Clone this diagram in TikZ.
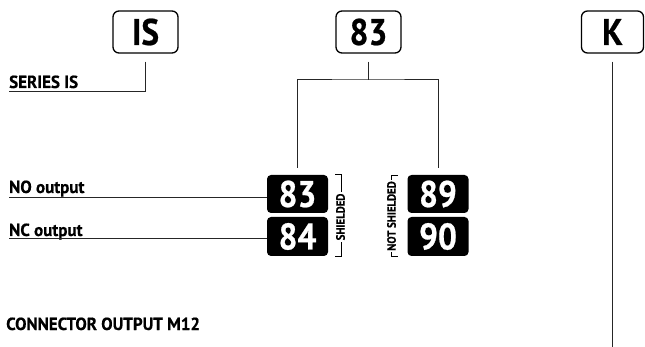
\documentclass[tikz,border=0pt]{standalone}
\usepackage{fontspec}
\setmainfont{PT Sans}
\newfontfamily\condfont{PT Sans Bold}[FakeStretch=0.9,FakeBold=0.6]
\newfontfamily\lblfont{PT Sans Bold}[FakeStretch=0.97,FakeBold=0.6]
\newfontfamily\vfont{PT Sans Bold}[FakeStretch=0.9,FakeBold=0.6]
\begin{document}
\begin{tikzpicture}[x=1pt,y=-1pt,
  wline/.style={line width=1pt,black!85},
  topbox/.style={draw,line width=1.3pt,rounded corners=6pt,minimum width=65pt,minimum height=42pt,inner sep=0pt,font=\condfont\fontsize{37}{37}\selectfont},
  blkbox/.style={fill=black,rounded corners=4pt,minimum width=61pt,minimum height=38pt,inner sep=0pt,text=white,font=\condfont\fontsize{37}{37}\selectfont},
  lbl/.style={anchor=base west,inner sep=0pt,font=\lblfont\fontsize{17.5}{17.5}\selectfont},
  vlbl/.style={rotate=90,fill=white,inner xsep=1.5pt,inner ysep=0pt,font=\vfont\fontsize{12}{12}\selectfont}]
\useasboundingbox (0,0) rectangle (645,347);
% top boxes
\node[topbox] (is) at (145.5,32) {IS};
\node[topbox] (b83) at (368.5,32) {83};
\node[topbox,minimum width=62pt] (k) at (612.5,32) {K};
% black boxes
\node[blkbox] (n83) at (297.5,194) {83};
\node[blkbox,minimum height=39pt] (n84) at (297.5,236.5) {84};
\node[blkbox] (n89) at (438,194) {89};
\node[blkbox,minimum height=39pt] (n90) at (438,236.5) {90};
% labels
\node[lbl] (series) at (9,88) {SERIES IS};
\node[lbl] (nolbl) at (9,193) {NO output};
\node[lbl] (nclbl) at (9,236) {NC output};
\node[lbl] (conn) at (6,330) {CONNECTOR OUTPUT M12};
% coordinates
\coordinate (seriesend) at (9,92);
\coordinate (noend) at (9,198);
\coordinate (ncend) at (9,239);
\coordinate (split) at (368.5,80);
\coordinate (kend) at (612.5,347);
% connectors
\draw[wline] ([yshift=-8pt]is.south) |- (seriesend);
\draw[wline] ([yshift=-8pt]b83.south) -- (split);
\draw[wline] ([yshift=7pt]n83.north) |- (split) -| ([yshift=7pt]n89.north);
\draw[wline] ([yshift=-8pt]k.south) -- (kend);
\draw[wline] (noend) -- (n83.west |- noend);
\draw[wline] (ncend) -- (n84.west |- ncend);
% brackets
\coordinate (sht) at (341,174);
\coordinate (shb) at (341,256);
\draw[line width=0.9pt] ([xshift=-6pt]sht) -- (sht) -- (shb) -- ([xshift=-6pt]shb);
\node[vlbl] (shield) at (340.5,217) {SHIELDED};
\coordinate (nst) at (391,175);
\coordinate (nsb) at (391,256);
\draw[line width=0.9pt] ([xshift=7pt]nst) -- (nst) -- (nsb) -- ([xshift=7pt]nsb);
\node[vlbl] (notshield) at (391.5,216) {NOT SHIELDED};
\end{tikzpicture}
\end{document}
